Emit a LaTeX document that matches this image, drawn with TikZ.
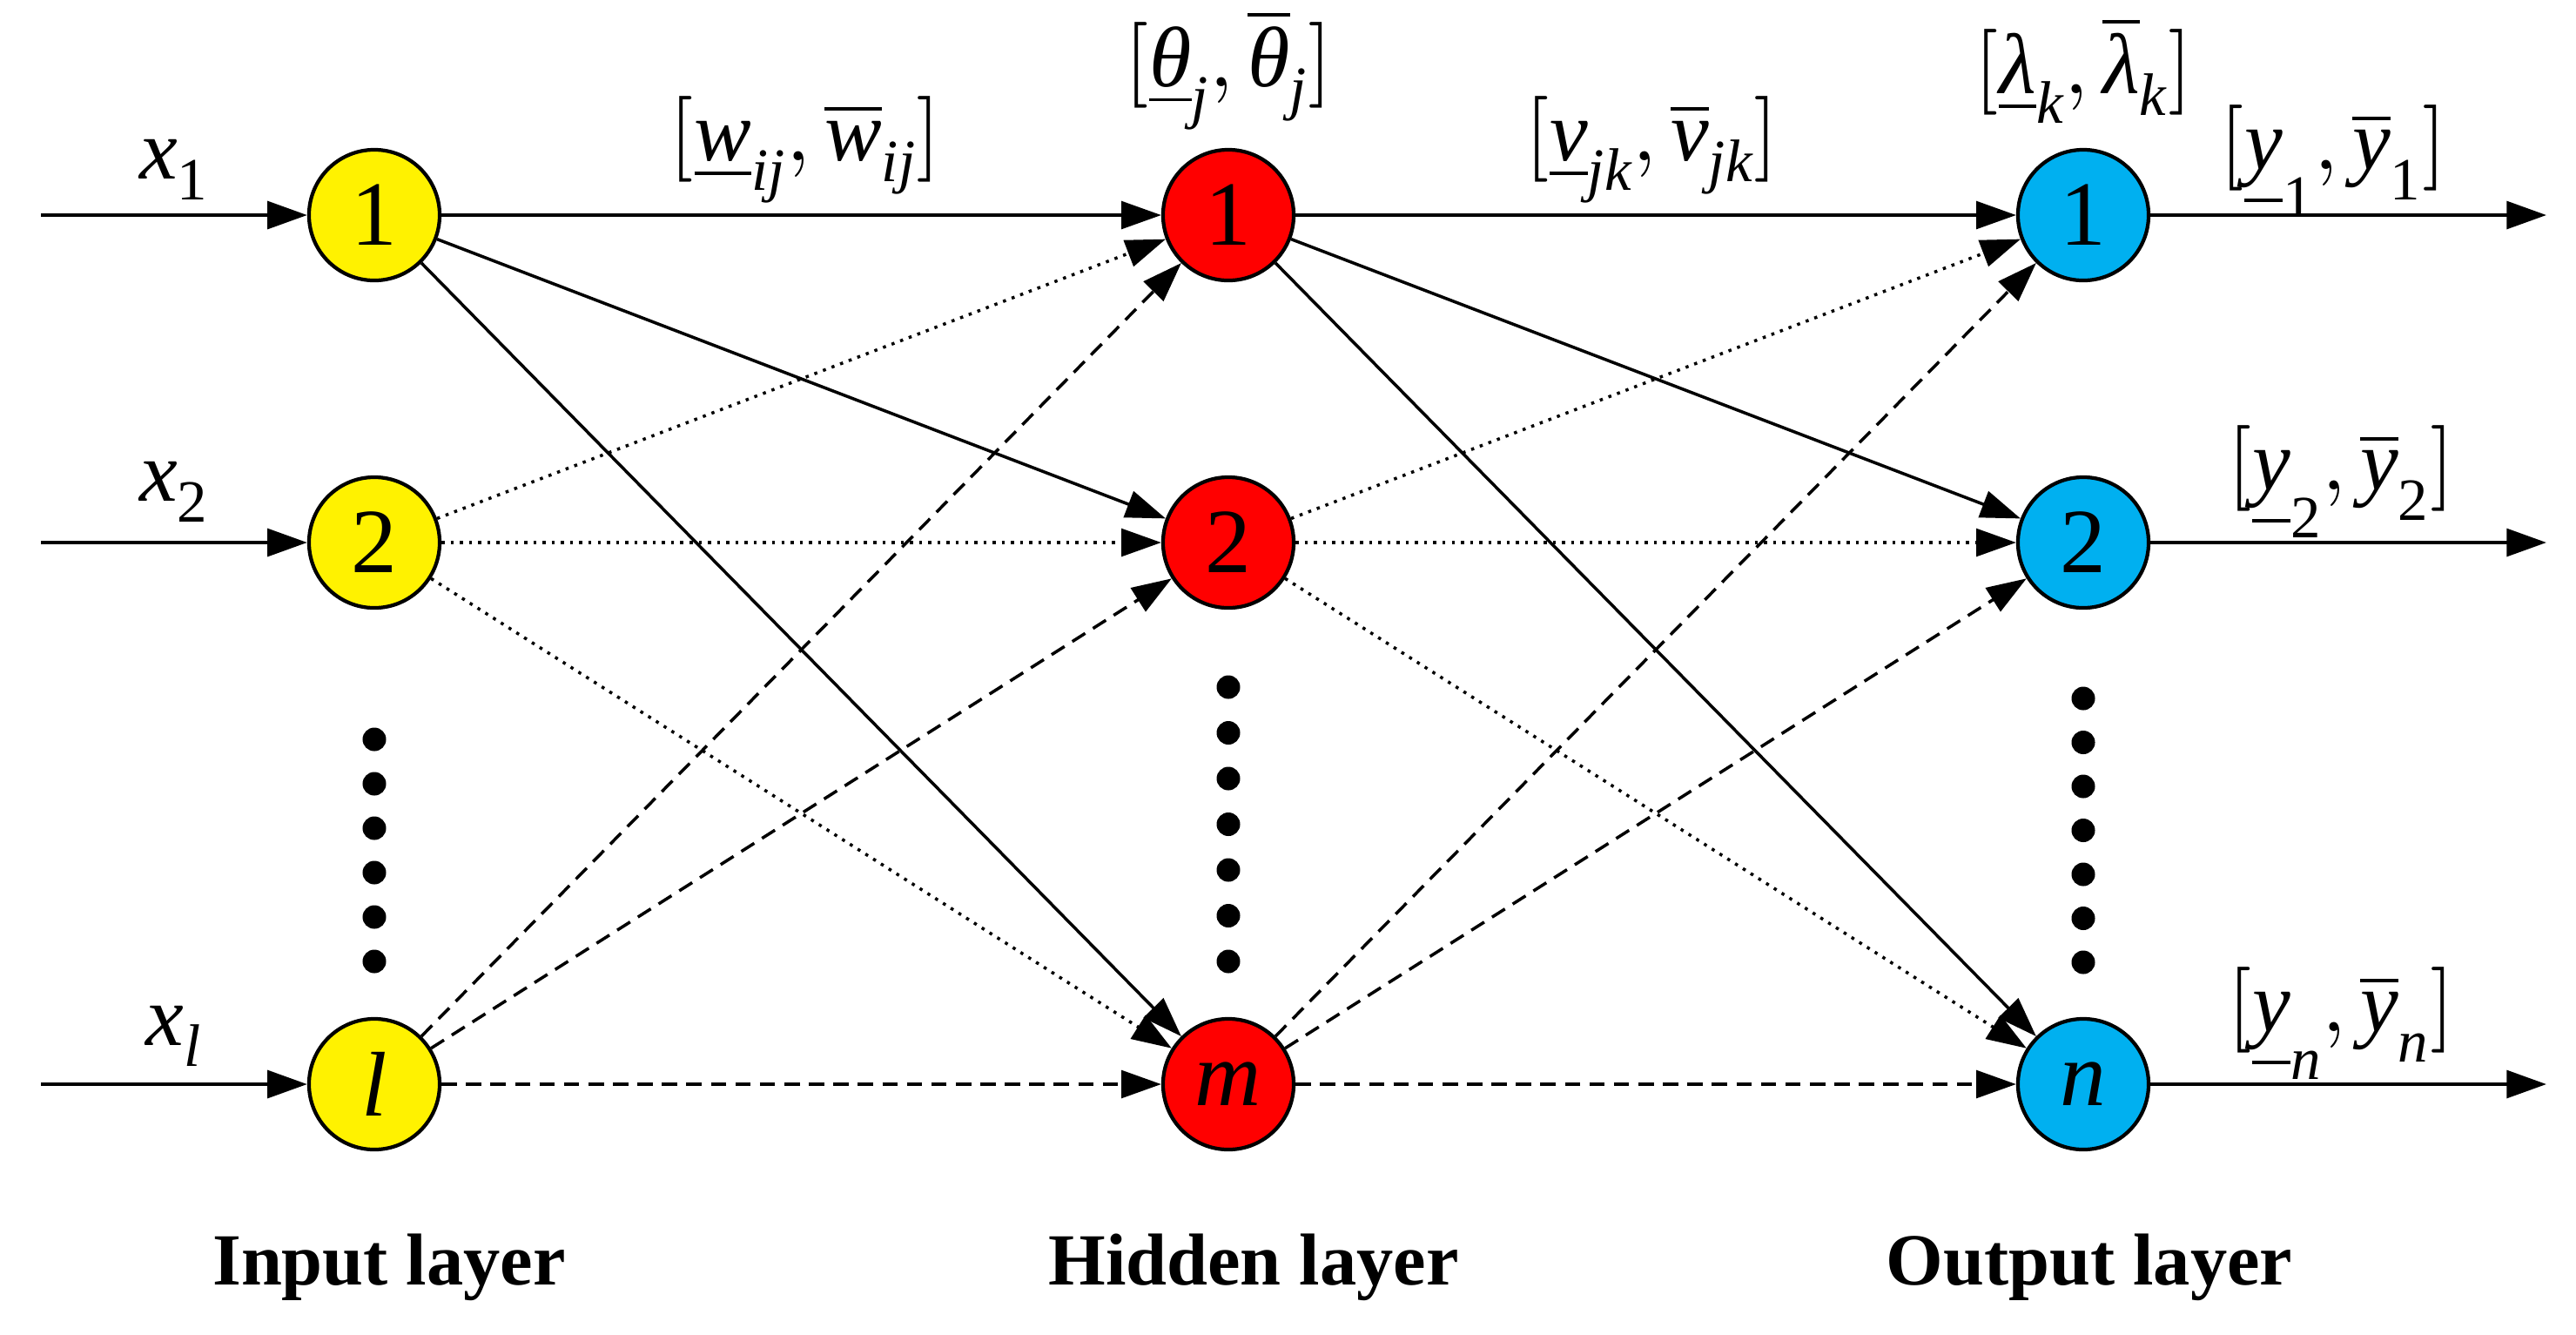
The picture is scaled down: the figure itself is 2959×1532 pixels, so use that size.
\documentclass[tikz,border=0pt]{standalone}
\usepackage{fontspec}
\setmainfont{Liberation Serif}
\usepackage{unicode-math}
\setmathfont{Latin Modern Math}
\setmathfont[range=it/{latin,Latin,greek,Greek}]{Liberation Serif Italic}
\setmathfont[range=up/{num}]{Liberation Serif}
\usetikzlibrary{arrows.meta}
\begin{document}
\begin{tikzpicture}[x=0.01cm,y=-0.01cm,
 neu/.style={circle,draw,line width=1.2pt,minimum size=1.5cm,inner sep=0,font=\fontsize{30}{32}\selectfont},
 inpn/.style={neu,fill=yellow},
 hidn/.style={neu,fill=red},
 outn/.style={neu,fill={rgb,255:red,0;green,176;blue,240}},
 arr/.style={-{Triangle[length=13pt,width=9pt]},line width=1.2pt},
 con/.style={-{Triangle[length=13pt,width=9pt]},line width=1pt},
 sol/.style={con},
 dot/.style={con,dotted},
 das/.style={con,dash pattern=on 5pt off 3pt},
 lab/.style={font=\fontsize{28}{30}\selectfont},
 ttl/.style={font=\bfseries\fontsize{24}{26}\selectfont},
 bdot/.style={circle,fill,inner sep=0,minimum size=0.27cm}]
\useasboundingbox (0,0) rectangle (2959,1532);
\node[inpn] (i1) at (430,247) {1};
\node[inpn] (i2) at (430,623) {2};
\node[inpn] (il) at (430,1245) {$l$};
\node[hidn] (h1) at (1411,247) {1};
\node[hidn] (h2) at (1411,623) {2};
\node[hidn] (hm) at (1411,1245) {$m$};
\node[outn] (o1) at (2393,247) {1};
\node[outn] (o2) at (2393,623) {2};
\node[outn] (on) at (2393,1245) {$n$};
\foreach \n/\y in {1/247,2/623,l/1245}{\coordinate (s\n) at (47,\y);}
\foreach \n/\y in {1/247,2/623,n/1245}{\coordinate (e\n) at (2925,\y);}
\draw[arr] (s1) -- (i1); \draw[arr] (s2) -- (i2); \draw[arr] (sl) -- (il);
\draw[arr] (o1) -- (e1); \draw[arr] (o2) -- (e2); \draw[arr] (on) -- (en);
\foreach \t in {h1,h2,hm}{
 \draw[sol] (i1) -- (\t); \draw[dot] (i2) -- (\t); \draw[das] (il) -- (\t);}
\foreach \t in {o1,o2,on}{
 \draw[sol] (h1) -- (\t); \draw[dot] (h2) -- (\t); \draw[das] (hm) -- (\t);}
\foreach \k in {0,...,5}{\node[bdot] (di\k) at (430,849+51*\k) {};}
\foreach \k in {0,...,6}{\node[bdot] (dh\k) at (1411,789+52.5*\k) {};}
\foreach \k in {0,...,6}{\node[bdot] (do\k) at (2393,802+50.5*\k) {};}
\node[lab] (x1) at (200,195) {$x_1$};
\node[lab] (x2) at (200,565) {$x_2$};
\node[lab] (xl) at (200,1190) {$x_l$};
\node[lab] (w) at (925,172) {$[\underline{w}_{ij},\overline{w}_{ij}]$};
\node[lab] (th) at (1411,80) {$[\underline{\theta}_j,\overline{\theta}_j]$};
\node[lab] (v) at (1897,172) {$[\underline{v}_{jk},\overline{v}_{jk}]$};
\node[lab] (la) at (2393,80) {$[\underline{\lambda}_k,\overline{\lambda}_k]$};
\node[lab] (y1) at (2680,185) {$[\underline{y}_1,\overline{y}_1]$};
\node[lab] (y2) at (2689,553) {$[\underline{y}_2,\overline{y}_2]$};
\node[lab] (yn) at (2689,1175) {$[\underline{y}_n,\overline{y}_n]$};
\node[ttl] (t1) at (447,1455) {Input layer};
\node[ttl] (t2) at (1440,1455) {Hidden layer};
\node[ttl] (t3) at (2400,1455) {Output layer};
\end{tikzpicture}
\end{document}
